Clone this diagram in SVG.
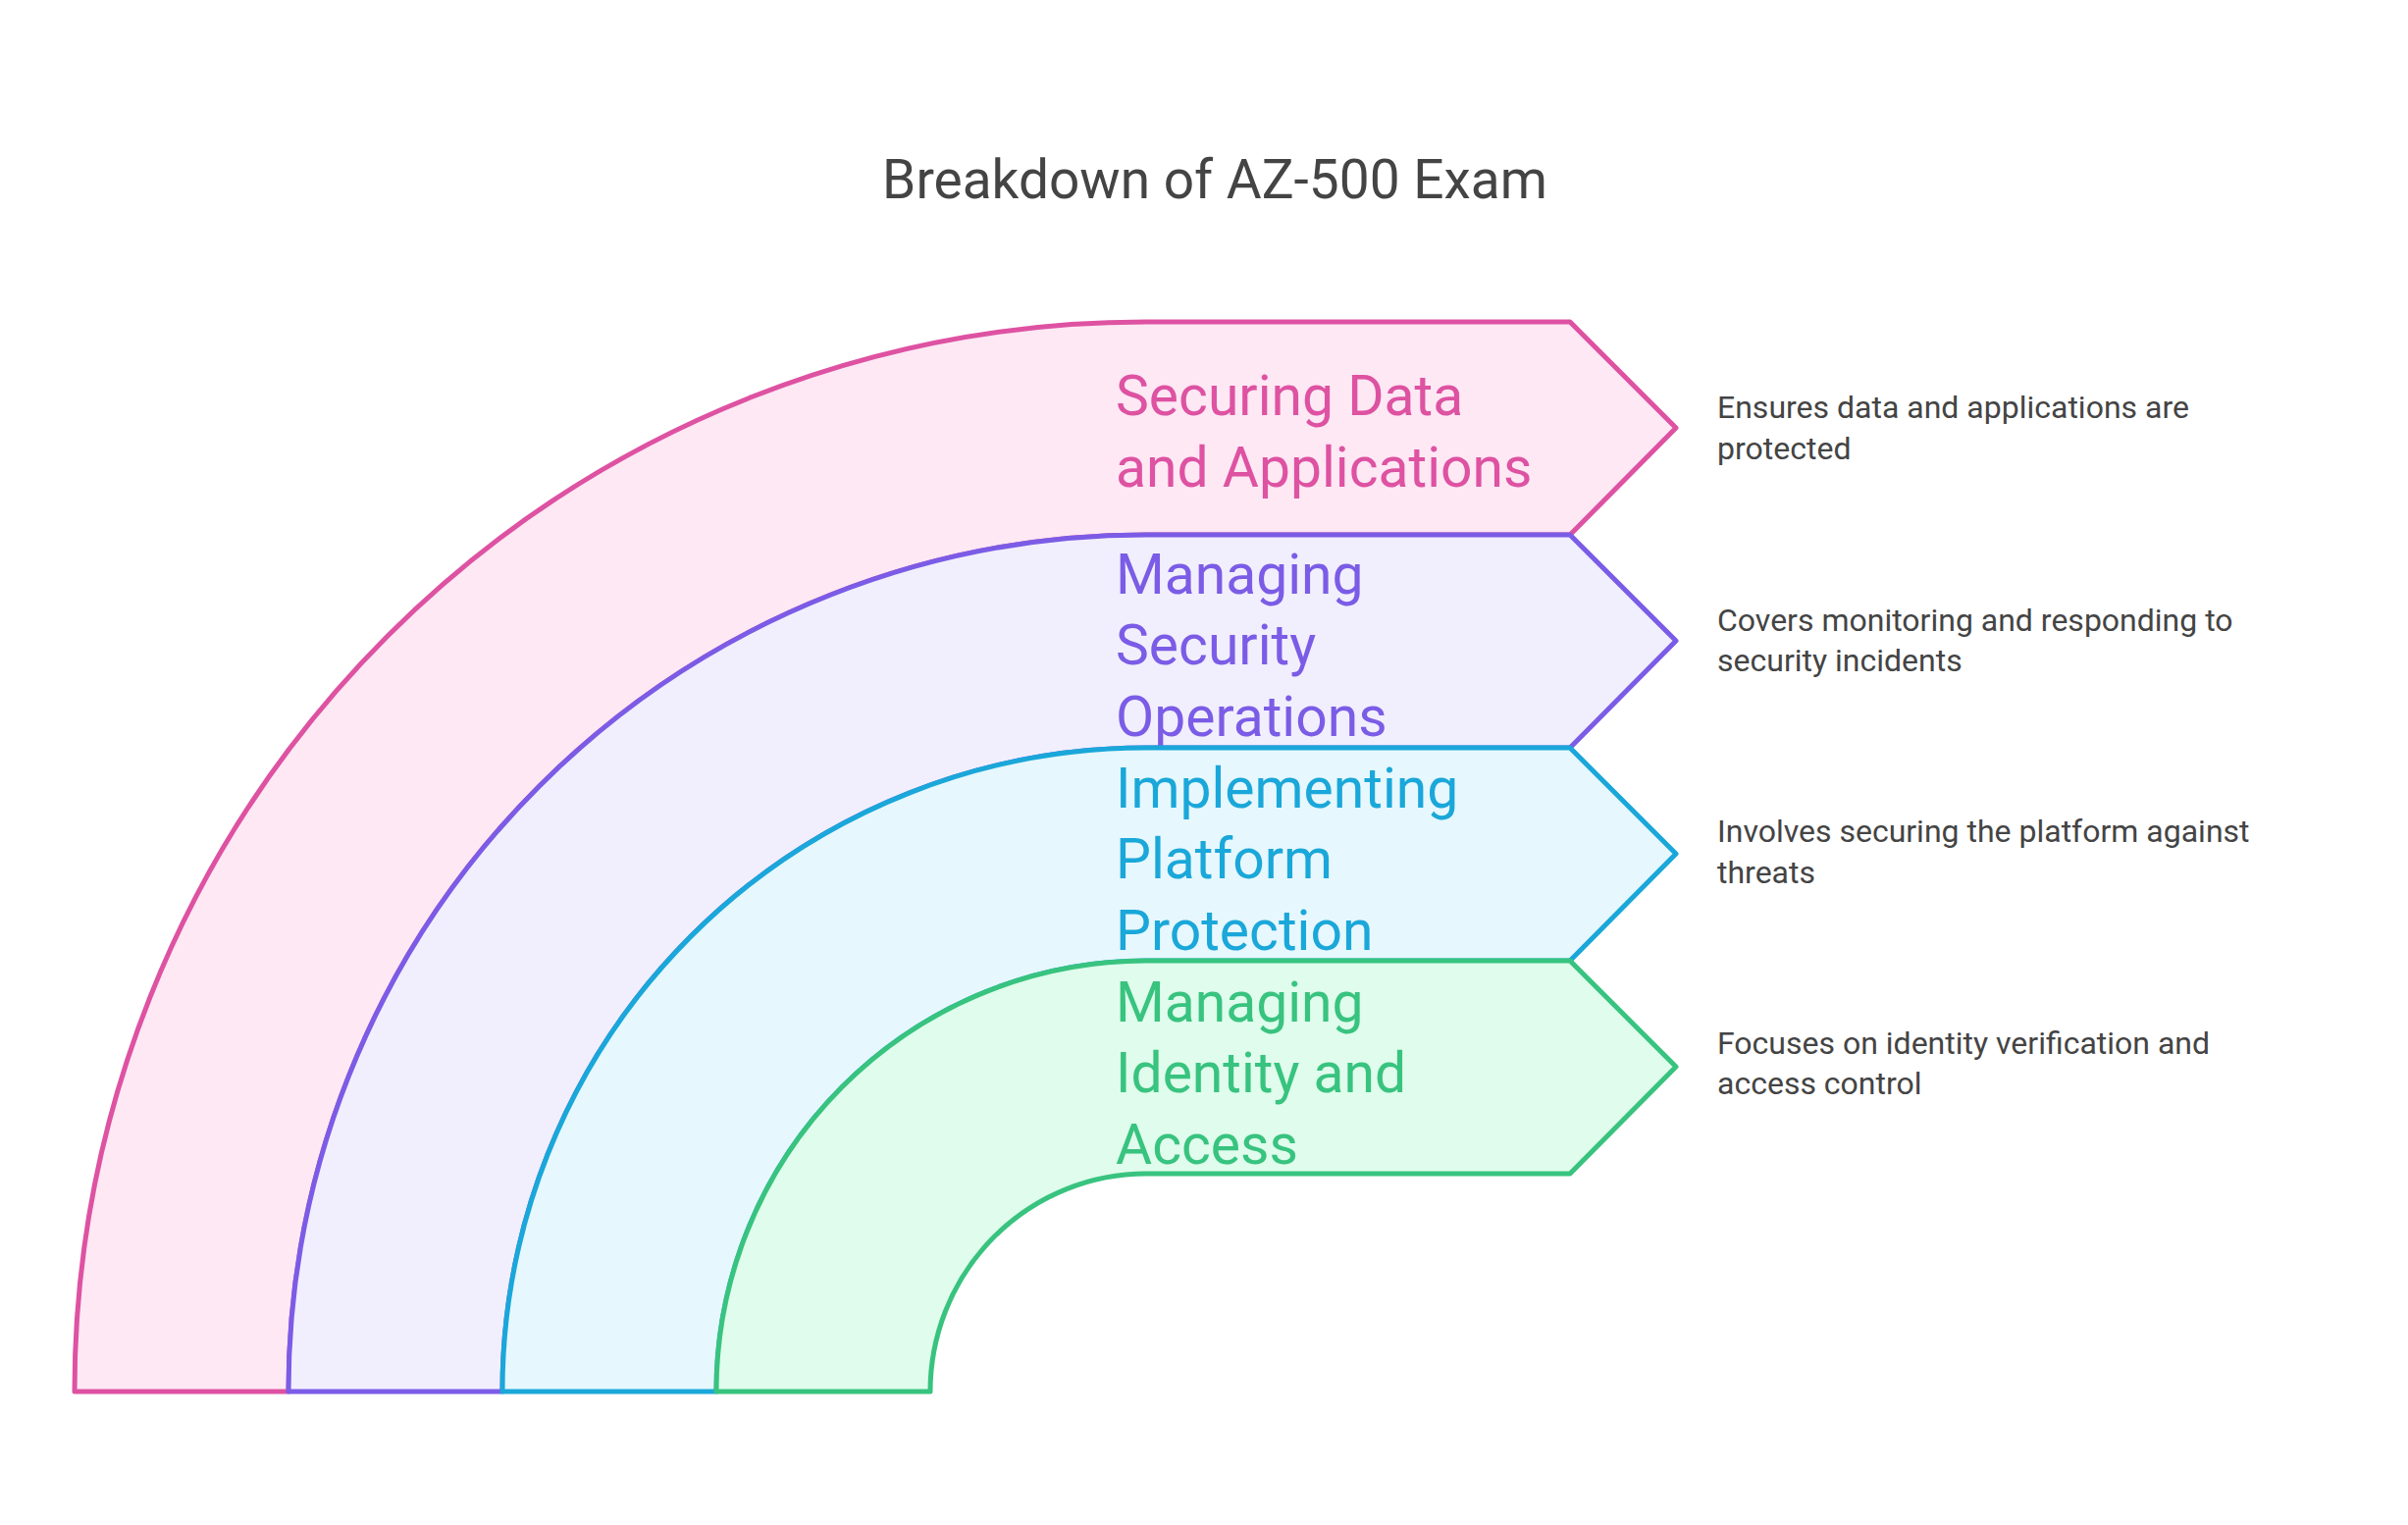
<svg xmlns="http://www.w3.org/2000/svg" width="2454" height="1554" viewBox="0 0 2454 1554">
<style>
.b{stroke-width:5;stroke-linejoin:round}
.l{font-family:Roboto,"Liberation Sans",sans-serif;font-size:57px}
.d{font-family:Roboto,"Liberation Sans",sans-serif;font-size:32px;fill:#444}
</style>
<rect width="2454" height="1554" fill="#fff"/>
<text x="1238" y="202" text-anchor="middle" font-family="Roboto,'Liberation Sans',sans-serif" font-size="55" fill="#444">Breakdown of AZ-500 Exam</text>
<g id="n1">
<path class="b" fill="#fde8f4" stroke="#de52a2" d="M76,1418 A1092,1090 0 0 1 1168,328 L1600,328 L1708,436 L1600,545 L1168,545 A874,873 0 0 0 294,1418 Z"/>
<text class="l" fill="#de52a2" x="1137" y="423">Securing Data</text>
<text class="l" fill="#de52a2" x="1137" y="496">and Applications</text>
<text class="d" x="1750" y="426">Ensures data and applications are</text>
<text class="d" x="1750" y="468">protected</text>
</g>
<g id="n2">
<path class="b" fill="#f1effd" stroke="#7b5ce6" d="M294,1418 A874,873 0 0 1 1168,545 L1600,545 L1708,653 L1600,762 L1168,762 A656,656 0 0 0 512,1418 Z"/>
<text class="l" fill="#7b5ce6" x="1137" y="605">Managing</text>
<text class="l" fill="#7b5ce6" x="1137" y="677">Security</text>
<text class="l" fill="#7b5ce6" x="1137" y="750">Operations</text>
<text class="d" x="1750" y="643">Covers monitoring and responding to</text>
<text class="d" x="1750" y="684">security incidents</text>
</g>
<g id="n3">
<path class="b" fill="#e6f7fd" stroke="#1aa7d9" d="M512,1418 A656,656 0 0 1 1168,762 L1600,762 L1708,870 L1600,979 L1168,979 A438,439 0 0 0 730,1418 Z"/>
<text class="l" fill="#1aa7d9" x="1137" y="823">Implementing</text>
<text class="l" fill="#1aa7d9" x="1137" y="895">Platform</text>
<text class="l" fill="#1aa7d9" x="1137" y="968">Protection</text>
<text class="d" x="1750" y="858">Involves securing the platform against</text>
<text class="d" x="1750" y="900">threats</text>
</g>
<g id="n4">
<path class="b" fill="#dffcec" stroke="#38c37f" d="M730,1418 A438,439 0 0 1 1168,979 L1600,979 L1708,1087 L1600,1196 L1168,1196 A220,222 0 0 0 948,1418 Z"/>
<text class="l" fill="#38c37f" x="1137" y="1041">Managing</text>
<text class="l" fill="#38c37f" x="1137" y="1113">Identity and</text>
<text class="l" fill="#38c37f" x="1137" y="1186">Access</text>
<text class="d" x="1750" y="1074">Focuses on identity verification and</text>
<text class="d" x="1750" y="1115">access control</text>
</g>
<g id="connectors"/>
</svg>
